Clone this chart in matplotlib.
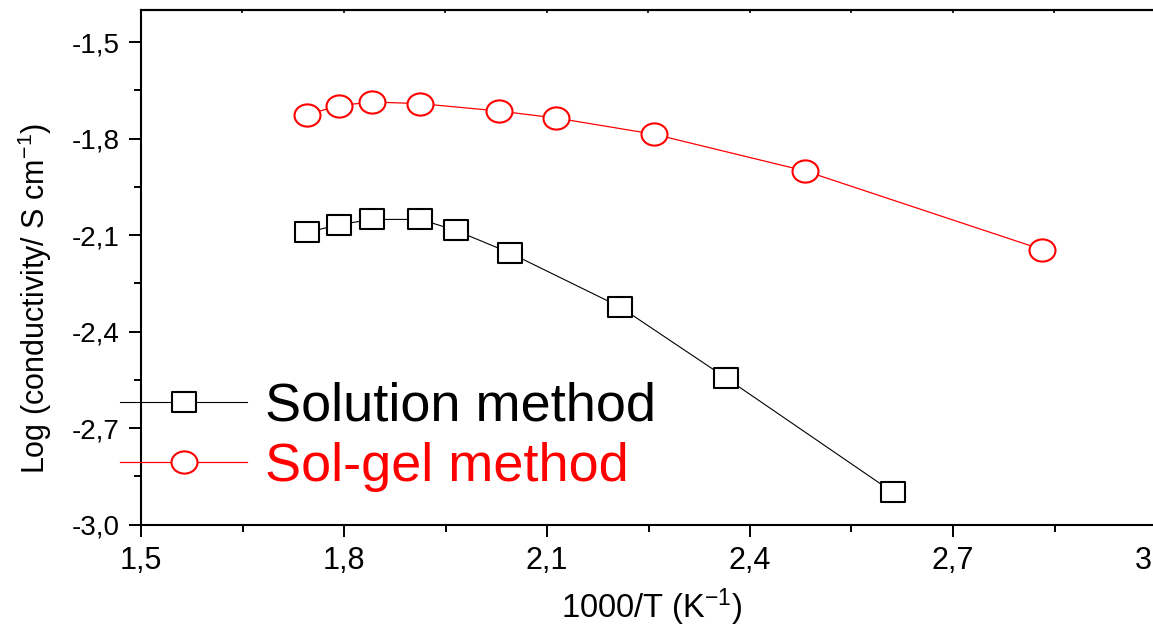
import matplotlib
matplotlib.use('Agg')
import matplotlib.pyplot as plt
import numpy as np
from matplotlib.path import Path
from matplotlib.ticker import MultipleLocator

plt.rcParams['font.family'] = 'Liberation Sans'
plt.rcParams['mathtext.fontset'] = 'custom'
plt.rcParams['mathtext.rm'] = 'Liberation Sans'
plt.rcParams['mathtext.default'] = 'regular'

# ---- data ----
x_solution = [1.746, 1.793, 1.842, 1.913, 1.965, 2.045, 2.208, 2.364, 2.611]
y_solution = [-2.091, -2.067, -2.051, -2.051, -2.085, -2.155, -2.323, -2.543, -2.899]

x_solgel = [1.746, 1.793, 1.842, 1.912, 2.029, 2.114, 2.258, 2.481, 2.832]
y_solgel = [-1.725, -1.697, -1.686, -1.691, -1.714, -1.736, -1.786, -1.900, -2.145]

xticks = [1.5, 1.8, 2.1, 2.4, 2.7, 3.0]
xtick_labels = ['1,5', '1,8', '2,1', '2,4', '2,7', '3,0']
yticks = [-3.0, -2.7, -2.4, -2.1, -1.8, -1.5]
ytick_labels = ['-3,0', '-2,7', '-2,4', '-2,1', '-1,8', '-1,5']

# slightly flattened markers, like the original export
rect = Path([(-1.14, -1), (1.14, -1), (1.14, 1), (-1.14, 1), (-1.14, -1)],
            [Path.MOVETO, Path.LINETO, Path.LINETO, Path.LINETO, Path.CLOSEPOLY])
circ = Path.unit_circle()
ellipse = Path(circ.vertices * np.array([1.17, 1.0]), circ.codes)

W, H = 1153, 631
fig = plt.figure(figsize=(W / 100, H / 100), dpi=100)
# axes run a bit past the right edge (the original is cropped there)
ax = fig.add_axes([141 / W, (H - 524.7) / H, 1015 / W, 514.7 / H])

ax.plot(x_solution, y_solution, color='black', linewidth=0.8,
        marker=rect, markersize=16.6, markerfacecolor='white',
        markeredgecolor='black', markeredgewidth=1.5, label='Solution method')
ax.plot(x_solgel, y_solgel, color='#FF0000', linewidth=0.9,
        marker=ellipse, markersize=18.7, markerfacecolor='white',
        markeredgecolor='#FF0000', markeredgewidth=1.5, label='Sol-gel method')

ax.set_xlim(1.5, 3.0)
ax.set_ylim(-3.0, -1.4)
ax.set_xticks(xticks)
ax.set_xticklabels(xtick_labels, fontsize=22)
ax.set_yticks(yticks)
ax.set_yticklabels(ytick_labels, fontsize=20)
ax.xaxis.set_minor_locator(MultipleLocator(0.15))
ax.yaxis.set_minor_locator(MultipleLocator(0.15))

for s in ['left', 'bottom', 'top']:
    ax.spines[s].set_linewidth(1.5)
ax.spines['right'].set_visible(False)

ax.tick_params(which='major', direction='out', length=8.6, width=1.4,
               pad=7, top=False, right=False)
ax.tick_params(which='minor', direction='out', length=5, width=1.4,
               top=False, right=False)

top = ax.secondary_xaxis('top')
top.set_xticks(np.arange(1.5, 3.01, 0.15))
top.tick_params(direction='in', length=2.5, width=1.2, labeltop=False)
top.spines['top'].set_linewidth(1.5)

ax.set_ylabel('Log (conductivity/ S cm$^{-1}$)', fontsize=22, va='center')
ax.yaxis.set_label_coords(-0.1044, 0.4405)
ax.set_xlabel('1000/T (K$^{-1}$)', fontsize=23.5, va='center')
ax.xaxis.set_label_coords(0.5034, -0.16)

leg = ax.legend(loc='center left', bbox_to_anchor=(120 / W, (H - 437) / H),
                bbox_transform=fig.transFigure, frameon=False, fontsize=39,
                borderpad=0, borderaxespad=0, handlelength=2.35,
                handletextpad=0.33, labelspacing=0.19)
leg.get_texts()[0].set_color('black')
leg.get_texts()[1].set_color('#FF0000')

fig.savefig('out.png', dpi=100, facecolor='white')
